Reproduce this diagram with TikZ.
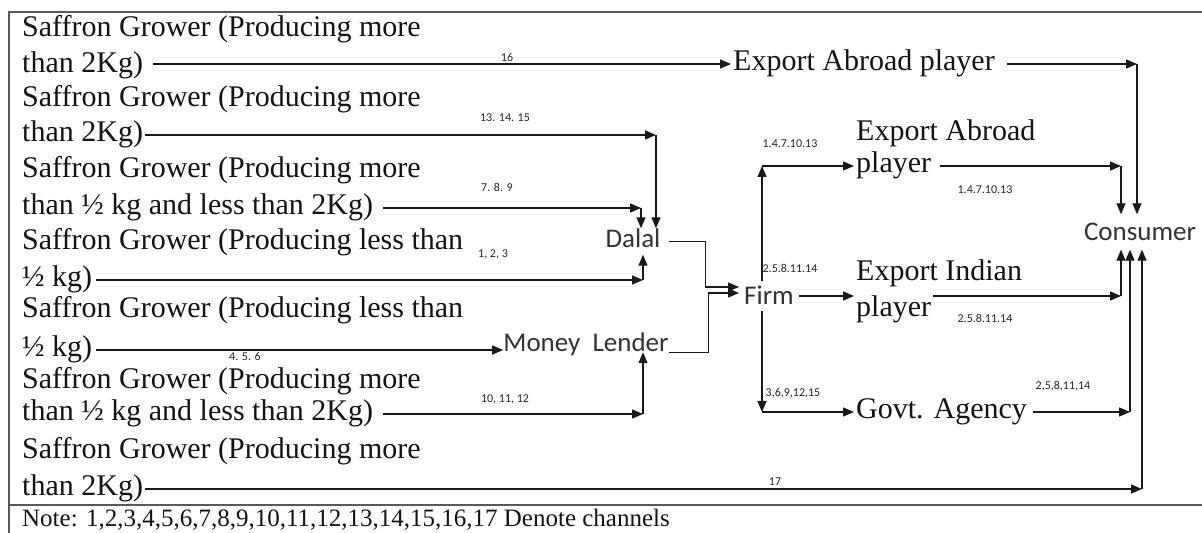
\documentclass[tikz,border=0pt]{standalone}
\usepackage{fontspec}
\setmainfont{Liberation Serif}
\newfontfamily\sansf{Carlito}
\usetikzlibrary{arrows.meta}
\begin{document}
\begin{tikzpicture}[x=1bp,y=-1bp,
  gtext/.style={anchor=west, inner xsep=2bp, inner ysep=0bp, font=\fontsize{30bp}{36bp}\selectfont, text height=20bp, text depth=7bp, text=black!92},
  stext/.style={font=\sansf\fontsize{27bp}{32bp}\selectfont, text=black!80},
  lab/.style={font=\sansf\fontsize{12bp}{14bp}\selectfont, text=black!85, inner sep=0bp},
  ln/.style={line width=1.3bp, draw=black!90},
  arr/.style={ln, -{Triangle[length=11bp,width=9bp]}},
  frame/.style={line width=1.4bp, draw=black!65}]
\useasboundingbox (0,0) rectangle (1202,533);
\fill[white] (0,0) rectangle (1202,533);
% frame
\draw[frame] (1202,12) -- (9,12) -- (9,533);
\draw[frame] (9,505) -- (1202,505);
% growers
\node[gtext] (g1a) at (20,30) {Saffron Grower (Producing more};
\node[gtext] (g1b) at (20,66) {than 2Kg)};
\node[gtext] (g2a) at (20,100) {Saffron Grower (Producing more};
\node[gtext] (g2b) at (20,135) {than 2Kg)};
\node[gtext] (g3a) at (20,171) {Saffron Grower (Producing more};
\node[gtext] (g3b) at (20,208) {than ½ kg and less than 2Kg)};
\node[gtext] (g4a) at (20,243) {Saffron Grower (Producing less than};
\node[gtext] (g4b) at (20,280) {½ kg)};
\node[gtext] (g5a) at (20,311) {Saffron Grower (Producing less than};
\node[gtext] (g5b) at (20,350) {½ kg)};
\node[gtext] (g6a) at (20,382) {Saffron Grower (Producing more};
\node[gtext] (g6b) at (20,414) {than ½ kg and less than 2Kg)};
\node[gtext] (g7a) at (20,452) {Saffron Grower (Producing more};
\node[gtext] (g7b) at (20,489) {than 2Kg)};
% right side players
\node[gtext] (eap1) at (731,64) {Export Abroad player};
\node[gtext] (eap2a) at (854,134) {Export Abroad};
\node[gtext] (eap2b) at (854,166) {player};
\node[gtext] (eipa) at (854,274) {Export Indian};
\node[gtext] (eipb) at (854,310) {player};
\node[gtext] (gov) at (854,412) {Govt. Agency};
% sans nodes
\node[stext, anchor=base, text height=18bp, text depth=5bp, inner xsep=8bp, inner ysep=1.5bp] (dalal) at (633,248) {Dalal};
\node[stext, anchor=base, inner sep=0bp, text depth=0bp] (ml) at (586,352) {Money\hspace{0.45em}Lender};
\node[stext, text height=17bp, text depth=0bp, inner xsep=5bp, inner ysep=6bp] (firm) at (769,296) {Firm};
\node[stext, text height=17bp, text depth=0bp, inner ysep=9bp, inner xsep=0bp] (cons) at (1140,232) {Consumer};
% corners
\coordinate (c1) at (1137,64);
\coordinate (c2) at (656,135);
\coordinate (c3) at (641,208);
\coordinate (c4) at (643,280);
\coordinate (c6) at (643,414);
\coordinate (c7) at (1142,489);
\coordinate (ce2) at (1121,166);
\coordinate (ce3) at (1121,296);
\coordinate (cg) at (1130,412);
\coordinate (fu) at (762,166);
\coordinate (fd) at (762,412);
% connectors
\draw[arr, shorten <=8bp] (g1b.east |- eap1.west) -- (eap1.west);
\draw[arr, shorten <=10bp] (eap1.east) -- (c1);
\draw[arr] (c1) -- (c1 |- cons.north);
\draw[arr] (g2b.east) -- (c2);
\draw[arr] (c2) -- (c2 |- dalal.north);
\draw[arr, shorten <=8bp] (g3b.east) -- (c3);
\draw[arr] (c3) -- (c3 |- dalal.north);
\draw[arr, shorten <=2bp] (g4b.east) -- (c4);
\draw[arr] (c4) -- (c4 |- dalal.south);
\draw[arr, shorten <=2bp] (g5b.east) -- (g5b.east -| ml.west);
\draw[arr, shorten <=8bp] (g6b.east) -- (c6);
\draw[arr] (c6) -- (c6 |- ml.south);
\draw[arr] (g7b.east) -- (c7);
\draw[arr] (c7) -- (c7 |- cons.south);
\draw[arr] (dalal.east) -- ++(37,0) |- ([yshift=9bp]firm.west);
\draw[arr] (ml.south east) -- ++(40,0) |- ([yshift=3bp]firm.west);
\draw[arr] (firm.north -| fu) -- (fu);
\draw[arr] (fu) -- (eap2b.west);
\draw[arr] (firm.south -| fd) -- (fd);
\draw[arr] (fd) -- (gov.west);
\draw[arr] (firm.east) -- (firm.east -| eipa.west);
\draw[arr, shorten <=7bp] (eap2b.east) -- (ce2);
\draw[arr] (ce2) -- (ce2 |- cons.north);
\draw[arr] (eipb.east |- firm.east) -- (ce3);
\draw[arr] (ce3) -- (ce3 |- cons.south);
\draw[arr, shorten <=4bp] (gov.east) -- (cg);
\draw[arr] (cg) -- (cg |- cons.south);
% labels
\node[lab] (l16) at (507,57) {16};
\node[lab] (l131415) at (505,118) {13. 14. 15};
\node[lab] (l789) at (497,187) {7. 8. 9};
\node[lab] (l123) at (493,254) {1, 2, 3};
\node[lab] (l456) at (245,356) {4. 5. 6};
\node[lab] (l101112) at (505,399) {10, 11, 12};
\node[lab] (la1) at (790,144) {1.4.7.10.13};
\node[lab] (la2) at (790,268) {2.5.8.11.14};
\node[lab] (la3) at (793,393) {3,6,9,12,15};
\node[lab] (lb1) at (985,190) {1.4.7.10.13};
\node[lab] (lb2) at (985,318) {2.5.8.11.14};
\node[lab] (lb3) at (1063,386) {2,5,8,11,14};
\node[lab] (l17) at (775,482) {17};
% note
\node[anchor=west, font=\fontsize{25bp}{30bp}\selectfont, inner sep=0bp, text=black!92] (note) at (22,520) {Note: 1,2,3,4,5,6,7,8,9,10,11,12,13,14,15,16,17 Denote channels};
\end{tikzpicture}
\end{document}
